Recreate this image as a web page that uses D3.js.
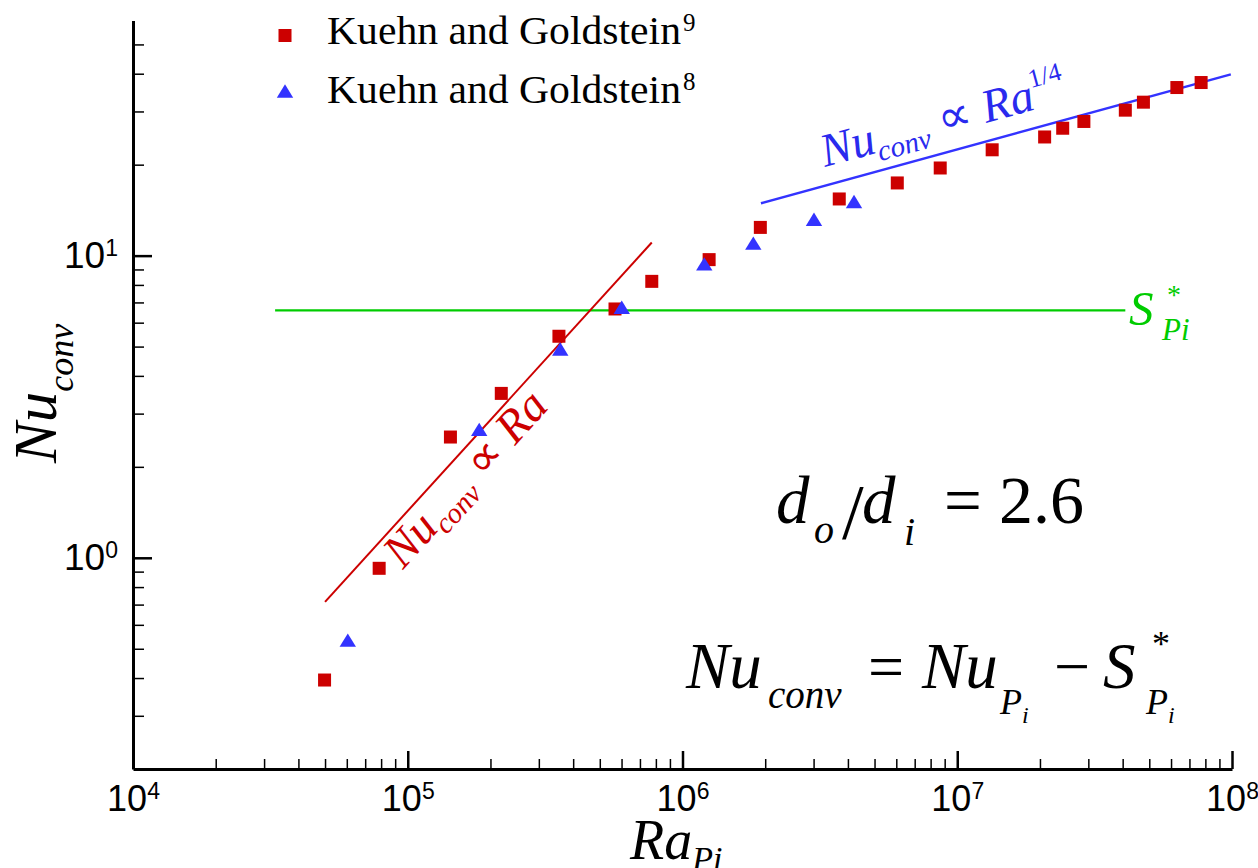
<!DOCTYPE html>
<html>
<head>
<meta charset="utf-8">
<script src="https://cdn.jsdelivr.net/npm/d3@7"></script>
<style>
body{margin:0;background:#fff;}
svg{display:block;}
</style>
</head>
<body>
<div id="root"></div>
<script>
// values
const raKG9 = [4.98e4, 7.87e4, 1.43e5, 2.19e5, 3.55e5, 5.68e5, 7.73e5, 1.25e6, 1.92e6, 3.72e6, 6.05e6, 8.67e6, 1.34e7, 2.08e7, 2.42e7, 2.89e7, 4.09e7, 4.76e7, 6.30e7, 7.72e7];
const nuKG9 = [0.394, 0.923, 2.51, 3.50, 5.41, 6.66, 8.22, 9.70, 12.4, 15.4, 17.4, 19.5, 22.4, 24.7, 26.4, 27.8, 30.3, 32.2, 36.0, 37.4];
const raKG8 = [6.05e4, 1.82e5, 3.59e5, 6.01e5, 1.20e6, 1.81e6, 3.01e6, 4.21e6];
const nuKG8 = [0.534, 2.66, 4.91, 6.75, 9.39, 11.0, 13.2, 15.1];

// power law guides and S*_Pi level
const fitLinRa = [5.0e4, 7.73e5];
const fitLinNu = [0.715, 11.05];
const fitQuarterRa = [1.93e6, 9.9e7];
const fitQuarterNu = [14.9, 39.8];
const sPiRa = [3.29e4, 4.09e7];
const sPiNu = [6.59, 6.59];

// tick labels
const xMajor = [1e4, 1e5, 1e6, 1e7, 1e8];
const yMajor = [1, 10];
const legendNames = ['Kuehn and Goldstein', 'Kuehn and Goldstein'];
const legendRefs = ['9', '8'];

const width = 1258, height = 868;
const serif = '"Liberation Serif","Times New Roman",Times,serif';
const sans = '"Liberation Sans",Arial,sans-serif';
const red = '#cc0000', blue = '#3333ff', green = '#00cc00';

const svg = d3.select('#root').append('svg')
	.attr('width', width)
	.attr('height', height);

const x = d3.scaleLog().domain([1e4, 1e8]).range([133, 1232]);
const y = d3.scaleLog().domain([0.2, 60]).range([769, 20.5]);
const x0 = x.range()[0], yb = y(0.2);

// minor ticks = every 1..9 multiple except majors / ends
const xMinor = x.ticks().filter(v => !xMajor.includes(v));
const yMinor = y.ticks().filter(v => !yMajor.includes(v) && v > 0.2 && v < 60);

const sup = (g, dy) => {
	g.selectAll('.tick text').each(function(d) {
		const t = d3.select(this);
		t.text('10');
		t.append('tspan').attr('dy', dy).style('font-size', '23px').text(Math.round(Math.log10(d)));
	});
};

// x axis
svg.append('g')
	.attr('transform', 'translate(0,' + yb + ')')
	.call(d3.axisBottom(x).tickValues(xMinor).tickSizeInner(-10).tickSizeOuter(0).tickFormat(''))
	.call(g => g.select('.domain').remove())
	.call(g => g.selectAll('line').attr('stroke', '#000').attr('stroke-width', 1.5));
svg.append('g')
	.attr('transform', 'translate(0,' + yb + ')')
	.call(d3.axisBottom(x).tickValues(xMajor).tickSizeInner(-18).tickSizeOuter(0).tickPadding(16))
	.call(g => g.select('.domain').attr('stroke-width', 3))
	.call(g => g.selectAll('line').attr('stroke-width', 2.5))
	.call(g => g.selectAll('text').style('font-family', sans).style('font-size', '36px').attr('fill', '#000'))
	.call(g => sup(g, -12));

// y axis
svg.append('g')
	.attr('transform', 'translate(' + x0 + ',0)')
	.call(d3.axisLeft(y).tickValues(yMinor).tickSizeInner(-11).tickSizeOuter(0).tickFormat(''))
	.call(g => g.select('.domain').remove())
	.call(g => g.selectAll('line').attr('stroke', '#000').attr('stroke-width', 1.5));
svg.append('g')
	.attr('transform', 'translate(' + x0 + ',0)')
	.call(d3.axisLeft(y).tickValues(yMajor).tickSizeInner(-19).tickSizeOuter(0).tickPadding(15))
	.call(g => g.select('.domain').attr('stroke-width', 3))
	.call(g => g.selectAll('line').attr('stroke-width', 2.5))
	.call(g => g.selectAll('text').style('font-family', sans).style('font-size', '37px').attr('fill', '#000'))
	.call(g => sup(g, -12));

// guide lines
const line = d3.line().x(d => x(d[0])).y(d => y(d[1]));
const guides = [
	{ra: sPiRa, nu: sPiNu, color: green, w: 2.2},
	{ra: fitLinRa, nu: fitLinNu, color: red, w: 2},
	{ra: fitQuarterRa, nu: fitQuarterNu, color: blue, w: 2.5}
];
guides.forEach(gd => {
	svg.append('path')
		.datum(d3.zip(gd.ra, gd.nu))
		.attr('d', line)
		.attr('fill', 'none')
		.attr('stroke', gd.color)
		.attr('stroke-width', gd.w);
});

// markers
const triPath = (cx, cy) => 'M' + cx + ',' + (cy - 6.7) + 'L' + (cx + 8.2) + ',' + (cy + 6.7) + 'L' + (cx - 8.2) + ',' + (cy + 6.7) + 'Z';
svg.append('g').selectAll('rect')
	.data(d3.zip(raKG9, nuKG9))
	.enter().append('rect')
	.attr('x', d => x(d[0]) - 6.5)
	.attr('y', d => y(d[1]) - 6.5)
	.attr('width', 13).attr('height', 13)
	.attr('fill', red);
svg.append('g').selectAll('path')
	.data(d3.zip(raKG8, nuKG8))
	.enter().append('path')
	.attr('d', d => triPath(x(d[0]), y(d[1])))
	.attr('fill', blue);

// legend
const leg = svg.append('g');
leg.append('rect').attr('x', 278.5).attr('y', 29).attr('width', 13).attr('height', 13).attr('fill', red);
leg.append('path').attr('d', triPath(285, 91)).attr('fill', blue);
legendNames.forEach((name, i) => {
	const by = [44, 103][i];
	leg.append('text').attr('x', 327).attr('y', by)
		.attr('textLength', 354).attr('lengthAdjust', 'spacingAndGlyphs')
		.style('font-family', serif).style('font-size', '39px').text(name);
	leg.append('text').attr('x', 683).attr('y', by - 13)
		.style('font-family', serif).style('font-size', '25px').text(legendRefs[i]);
});

// helper for pieces of math text
const put = (txt, px, py, size, italic, color) => svg.append('text')
	.attr('x', px).attr('y', py)
	.attr('fill', color || '#000')
	.style('font-family', serif)
	.style('font-style', italic ? 'italic' : 'normal')
	.style('font-size', size + 'px')
	.text(txt);

// axis titles
const yt = svg.append('text')
	.attr('transform', 'translate(56,463) rotate(-90)')
	.style('font-family', serif).style('font-style', 'italic').style('font-size', '61px');
yt.append('tspan').text('Nu');
yt.append('tspan').attr('dy', 17).style('font-size', '36px').text('conv');

const xt = svg.append('text')
	.attr('x', 630).attr('y', 859)
	.style('font-family', serif).style('font-style', 'italic').style('font-size', '56px');
xt.append('tspan').text('Ra');
xt.append('tspan').attr('dy', 11).style('font-size', '34px').text('Pi');

// slanted labels on the guide lines
const slanted = (tx, ty, ang, color, withQuarter) => {
	const t = svg.append('text')
		.attr('transform', 'translate(' + tx + ',' + ty + ') rotate(' + ang + ')')
		.attr('fill', color)
		.style('font-family', serif).style('font-style', 'italic').style('font-size', '47px');
	t.append('tspan').text('Nu');
	t.append('tspan').attr('dy', 9).style('font-size', '29px').text('conv');
	t.append('tspan').attr('dy', -9).style('font-style', 'normal').text(' \u221D ');
	t.append('tspan').text('Ra');
	if (withQuarter) t.append('tspan').attr('dy', -22).style('font-size', '26px').style('font-style', 'normal').text('1/4');
};
slanted(403, 570, -47.9, red, false);
slanted(825, 167, -15.3, '#2a2aee', true);

// S*_Pi label
put('S', 1129, 325, 49, true, green);
put('*', 1167, 304, 28, false, green);
put('Pi', 1162, 340, 31, true, green);

// d_o/d_i = 2.6
put('d', 776, 523, 67, true);
put('o', 814, 543, 40, true);
put('/', 842, 538, 78, false);
put('d', 862, 523, 67, true);
put('i', 904, 545, 40, true);
put('=', 944, 523, 67, false);
put('2.6', 999, 523, 68, false);

// Nu_conv = Nu_Pi - S*_Pi
put('Nu', 686, 688, 65, true);
put('conv', 768, 708, 39, true);
put('=', 868, 688, 64, false);
put('Nu', 922, 688, 65, true);
put('P', 1000, 714, 36, true);
put('i', 1022, 723, 24, true);
put('\u2212', 1054, 688, 64, false);
put('S', 1103, 688, 65, true);
put('*', 1152, 656, 36, false);
put('P', 1146, 714, 36, true);
put('i', 1168, 723, 24, true);
</script>
</body>
</html>
